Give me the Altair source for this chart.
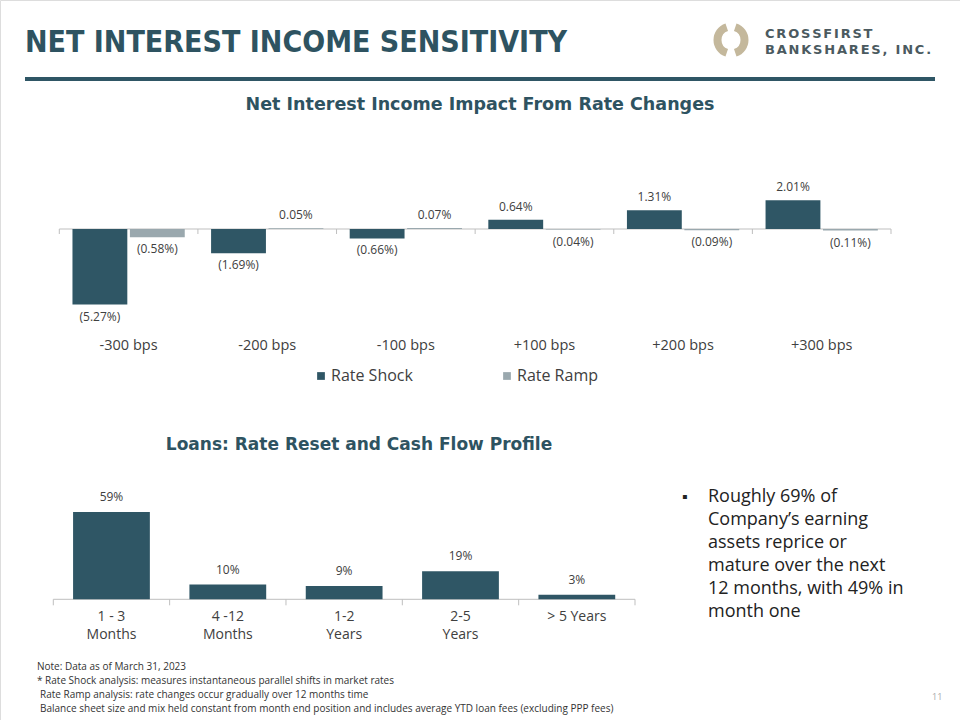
import altair as alt
import pandas as pd

# ---------------- data ----------------
scenarios = ["-300 bps", "-200 bps", "-100 bps", "+100 bps", "+200 bps", "+300 bps"]
series_names = ["Rate Shock", "Rate Ramp"]
rate_shock = [-5.27, -1.69, -0.66, 0.64, 1.31, 2.01]
rate_ramp = [-0.58, 0.05, 0.07, -0.04, -0.09, -0.11]

loan_buckets = ["1 - 3 Months", "4 -12 Months", "1-2 Years", "2-5 Years", "> 5 Years"]
loan_line1 = ["1 - 3", "4 -12", "1-2", "2-5", "> 5 Years"]
loan_line2 = ["Months", "Months", "Years", "Years", ""]
loan_share = [59, 10, 9, 19, 3]

page_title = "NET INTEREST INCOME SENSITIVITY"
top_title = "Net Interest Income Impact From Rate Changes"
bottom_title = "Loans: Rate Reset and Cash Flow Profile"
logo_lines = ["CROSSFIRST", "BANKSHARES, INC."]
bullet_lines = ["Roughly 69% of", "Company\u2019s earning", "assets reprice or",
                "mature over the next", "12 months, with 49% in", "month one"]
note_lines = ["Note: Data as of March 31, 2023",
              "* Rate Shock analysis: measures instantaneous parallel shifts  in market rates",
              "Rate Ramp analysis: rate  changes occur gradually over 12 months time",
              "Balance sheet size and mix held constant from month end position and includes average YTD loan fees (excluding PPP fees)"]
page_number = "11"

# ---------------- styles ----------------
TEAL = "#2f5665"
RAMP = "#9aa8ae"
TITLE_C = "#2e5361"
TXT = "#404040"
AXIS_C = "#bfbfbf"
FONT = "Open Sans"
BOLD_FONT = "DejaVu Sans"


def fmt(v):
    return f"({abs(v):.2f}%)" if v < 0 else f"{v:.2f}%"


rows = []
for s, a, b in zip(scenarios, rate_shock, rate_ramp):
    rows.append({"scenario": s, "series": "Rate Shock", "value": a, "label": fmt(a)})
    rows.append({"scenario": s, "series": "Rate Ramp", "value": b, "label": fmt(b)})
top_df = pd.DataFrame(rows)

loan_df = pd.DataFrame({"bucket": loan_buckets, "share": loan_share,
                        "line1": loan_line1, "line2": loan_line2,
                        "label": [f"{v}%" for v in loan_share]})

# ---------------- top chart ----------------
TOP_X0, TOP_X1 = 59.3, 891.0
TOP_ZERO, TOP_PX = 229.0, 14.35
top_dom = [-6.5, 3.5]

tx = alt.X("scenario:N", sort=scenarios, axis=None,
           scale=alt.Scale(domain=scenarios, range=[TOP_X0, TOP_X1],
                           paddingInner=0.19, paddingOuter=0.095))
txo = alt.XOffset("series:N", sort=series_names,
                  scale=alt.Scale(domain=series_names, paddingInner=0.045, paddingOuter=0))
ty = alt.Y("value:Q", axis=None,
           scale=alt.Scale(domain=top_dom, nice=False, zero=False,
                           range=[TOP_ZERO - top_dom[0] * TOP_PX, TOP_ZERO - top_dom[1] * TOP_PX]))

base_top = alt.Chart(top_df)
top_bars = base_top.mark_bar().encode(
    x=tx, xOffset=txo, y=ty,
    color=alt.Color("series:N", sort=series_names,
                    scale=alt.Scale(domain=series_names, range=[TEAL, RAMP]),
                    legend=alt.Legend(orient="none", legendX=313, legendY=368, direction="horizontal",
                                      title=None, symbolType="square", symbolSize=60,
                                      symbolStrokeWidth=0, labelFont=FONT, labelFontSize=16,
                                      labelColor=TXT, columnPadding=86, labelOffset=2)),
)
top_pos = base_top.transform_filter("datum.value >= 0").mark_text(
    baseline="bottom", dy=-6, font=FONT, fontSize=12, color=TXT).encode(
    x=tx, xOffset=txo, y=ty, text="label:N")
top_neg = base_top.transform_filter("datum.value < 0").mark_text(
    baseline="top", dy=7, font=FONT, fontSize=12, color=TXT).encode(
    x=tx, xOffset=txo, y=ty, text="label:N")
top_zero = alt.Chart(pd.DataFrame({"value": [0.0]})).mark_rule(color=AXIS_C, strokeWidth=1).encode(
    y=ty, x=alt.value(TOP_X0), x2=alt.value(TOP_X1))
top_cats = alt.Chart(pd.DataFrame({"scenario": scenarios})).mark_text(
    font=FONT, fontSize=14.5, color=TXT, baseline="middle").encode(
    x=tx, y=alt.value(346), text="scenario:N")

top_ticks = alt.Chart(pd.DataFrame({"i": list(range(len(scenarios) + 1))})).mark_rule(
    color=AXIS_C, strokeWidth=1).encode(
    x=alt.X("i:Q", axis=None, scale=alt.Scale(domain=[0, len(scenarios)], range=[TOP_X0, TOP_X1])),
    y=alt.value(TOP_ZERO), y2=alt.value(TOP_ZERO + 5))

# ---------------- bottom chart ----------------
BOT_X0, BOT_X1 = 53.3, 635.0
BOT_ZERO, BOT_PX = 599.3, 1.48
bot_dom = [0, 70]

bx = alt.X("bucket:N", sort=loan_buckets, axis=None,
           scale=alt.Scale(domain=loan_buckets, range=[BOT_X0, BOT_X1],
                           paddingInner=0.34, paddingOuter=0.17))
by = alt.Y("share:Q", axis=None,
           scale=alt.Scale(domain=bot_dom, nice=False,
                           range=[BOT_ZERO, BOT_ZERO - bot_dom[1] * BOT_PX]))
base_bot = alt.Chart(loan_df)
bot_bars = base_bot.mark_bar(color=TEAL).encode(x=bx, y=by)
bot_vals = base_bot.mark_text(baseline="bottom", dy=-8, font=FONT, fontSize=12, color=TXT).encode(
    x=bx, y=by, text="label:N")
bot_cats1 = base_bot.mark_text(baseline="middle", font=FONT, fontSize=14, color=TXT).encode(
    x=bx, y=alt.value(617), text="line1:N")
bot_cats2 = base_bot.transform_filter("datum.line2 != ''").mark_text(
    baseline="middle", font=FONT, fontSize=14, color=TXT).encode(
    x=bx, y=alt.value(634.5), text="line2:N")
bot_zero = alt.Chart(pd.DataFrame({"share": [0.0]})).mark_rule(color=AXIS_C, strokeWidth=1).encode(
    y=by, x=alt.value(BOT_X0), x2=alt.value(BOT_X1))

bot_ticks = alt.Chart(pd.DataFrame({"i": list(range(len(loan_buckets) + 1))})).mark_rule(
    color=AXIS_C, strokeWidth=1).encode(
    x=alt.X("i:Q", axis=None, scale=alt.Scale(domain=[0, len(loan_buckets)], range=[BOT_X0, BOT_X1])),
    y=alt.value(BOT_ZERO), y2=alt.value(BOT_ZERO + 6))

# ---------------- texts & decorations ----------------
one = pd.DataFrame({"k": [0]})


def text_layer(txt, x, y, size, color, weight="normal", font=FONT, align="left", baseline="middle"):
    return alt.Chart(pd.DataFrame({"t": [txt]})).mark_text(
        align=align, baseline=baseline, font=font, fontSize=size, fontWeight=weight, color=color
    ).encode(x=alt.value(x), y=alt.value(y), text="t:N")


layers = [top_zero, top_bars, top_pos, top_neg, top_cats, top_ticks,
          bot_zero, bot_bars, bot_vals, bot_cats1, bot_cats2, bot_ticks]

layers.append(text_layer(page_title, 25, 52, 30, TITLE_C, weight="bold",
                         font="DejaVu Sans Condensed, Roboto", baseline="alphabetic"))
layers.append(alt.Chart(one).mark_rule(color=TEAL, strokeWidth=4).encode(
    x=alt.value(25), x2=alt.value(935), y=alt.value(79)))
layers.append(text_layer(top_title, 480, 105, 17.5, TITLE_C, weight="bold", font=BOLD_FONT, align="center"))
layers.append(text_layer(bottom_title, 359, 445, 17, TITLE_C, weight="bold", font=BOLD_FONT, align="center"))

# logo mark
LOGO = "#c4b89c"
for t0, t1 in [(0.32, 3.1416 - 0.32), (3.1416 + 0.32, 2 * 3.1416 - 0.32)]:
    layers.append(alt.Chart(one).mark_arc(color=LOGO, x=731, y=40).encode(
        theta=alt.value(t0), theta2=alt.value(t1),
        radius=alt.value(17.5), radius2=alt.value(9.5)))

# logo wordmark, letter-spaced
CW = {"C": .734, "R": .770, "O": .850, "S": .720, "F": .683, "I": .372, "T": .682, "B": .762,
      "A": .774, "N": .837, "K": .775, "H": .837, "E": .683, ",": .380, " ": .348, ".": .380}
LFS, LSP = 13, 1.8
chars = []
for line, yy in zip(logo_lines, [34, 50]):
    cx = 765.0
    for ch in line:
        chars.append({"ch": ch, "px": cx, "py": yy})
        cx += CW.get(ch, 0.7) * LFS + LSP
layers.append(alt.Chart(pd.DataFrame(chars)).mark_text(
    align="left", baseline="middle", font=BOLD_FONT, fontSize=LFS, fontWeight="bold", color="#4b5a60"
).encode(x=alt.X("px:Q", scale=None), y=alt.Y("py:Q", scale=None), text="ch:N"))

# bullet
layers.append(text_layer("\u25aa", 682, 497, 16, "#222222"))
for i, line in enumerate(bullet_lines):
    layers.append(text_layer(line, 708, 497 + i * 23, 18, "#222222"))

# notes
for i, line in enumerate(note_lines):
    layers.append(text_layer(line, 37 if i < 2 else 40, 667 + i * 14, 10, "#333333"))
layers.append(text_layer(page_number, 932, 697, 9, "#aaaaaa"))

chart = alt.layer(*layers).resolve_scale(
    x="independent", y="independent", color="independent"
).properties(
    width=960, height=720, autosize=alt.AutoSizeParams(type="none"), padding=0
).configure_view(stroke=None).configure(background="white")

chart.save("out.html", embed_options={"renderer": "svg", "actions": False})
